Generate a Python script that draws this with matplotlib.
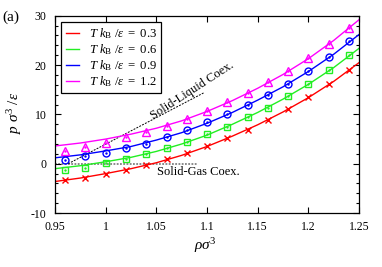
#!/usr/bin/env python

import numpy as np
import matplotlib
matplotlib.use("Agg")
import matplotlib.pyplot as plt
from matplotlib.ticker import MultipleLocator, FixedLocator

plt.rcParams['font.family'] = ['Liberation Serif', 'DejaVu Serif']
plt.rcParams['mathtext.fontset'] = 'custom'
plt.rcParams['mathtext.rm'] = 'Liberation Serif'
plt.rcParams['mathtext.it'] = 'Liberation Serif:italic'
plt.rcParams['mathtext.bf'] = 'Liberation Serif:bold'

# densidades de la simulacion
rho = [0.96, 0.98, 1.00, 1.02, 1.04, 1.06, 1.08, 1.10, 1.12, 1.14,
       1.16, 1.18, 1.20, 1.22, 1.24]
p_03 = [-3.3, -2.8, -2.0, -1.2, -0.3, 0.9, 2.1, 3.6, 5.2, 6.9,
        8.8, 11.0, 13.5, 16.2, 19.1]
p_06 = [-1.2, -0.8, 0.2, 0.9, 2.0, 3.2, 4.5, 6.1, 7.5, 9.4,
        11.4, 13.8, 16.2, 19.0, 22.0]
p_09 = [0.8, 1.5, 2.2, 3.1, 4.1, 5.35, 6.8, 8.4, 10.1, 11.9,
        14.0, 16.2, 18.9, 21.7, 24.9]
p_12 = [2.65, 3.45, 4.3, 5.5, 6.4, 7.6, 9.0, 10.75, 12.45, 14.4,
        16.5, 18.8, 21.5, 24.3, 27.5]

# curvas teoricas
rho_fit = [0.95, 0.975, 1.0, 1.025, 1.05, 1.075, 1.1, 1.125, 1.15,
           1.175, 1.2, 1.225, 1.25]
fit_03 = [-3.6, -2.9, -2.0, -1.0, 0.2, 1.7, 3.5, 5.6, 7.9, 10.5, 13.4, 16.7, 20.5]
fit_06 = [-1.0, -0.4, 0.4, 1.3, 2.5, 4.0, 5.8, 8.0, 10.4, 13.1, 16.1, 19.5, 23.4]
fit_09 = [1.2, 1.8, 2.6, 3.5, 4.8, 6.3, 8.2, 10.4, 12.9, 15.6, 18.7, 22.2, 26.2]
fit_12 = [3.6, 4.2, 5.0, 6.0, 7.2, 8.7, 10.6, 12.8, 15.3, 18.1, 21.3, 25.0, 29.2]

temps = ["0.3", "0.6", "0.9", "1.2"]

# coexistencias
sl_rho = [0.963, 1.097]
sl_p = [0.0, 14.4]
sg_rho = [0.95, 1.09]
sg_p = [0.0, 0.0]

xticks = [0.95, 1.0, 1.05, 1.1, 1.15, 1.2, 1.25]
xticklabels = ["0.95", "1", "1.05", "1.1", "1.15", "1.2", "1.25"]
yticks = [-10, 0, 10, 20, 30]
yticklabels = ["-10", "0", "10", "20", "30"]

colors = ["#ff0000", "#22ee22", "#0000ff", "#ff00ff"]
markers = ["x", "s", "o", "^"]

fig = plt.figure(figsize=(3.82, 2.67), dpi=100)
ax = fig.add_axes([0.144, 0.202, 0.796, 0.739])

ax.plot(sg_rho, sg_p, color="0.5", lw=1.3, linestyle=(0, (1, 0.8)), zorder=1)
ax.plot(sl_rho, sl_p, color="black", lw=0.7, linestyle=(0, (2, 1.3)), zorder=1)

series = [p_03, p_06, p_09, p_12]
fits = [fit_03, fit_06, fit_09, fit_12]
for T, p, f, c, m in zip(temps, series, fits, colors, markers):
    ax.plot(rho_fit, f, color=c, lw=1.0, zorder=2,
            label=r"$T\ k_\mathrm{B}\ /\varepsilon\ =\ %s$" % T)
    ax.plot(rho, p, linestyle="none", marker=m, ms=5 if m != "^" else 5.5,
            mfc="none", mec=c, mew=1.0, zorder=3)
    if m != "x":
        ax.plot(rho, p, linestyle="none", marker=".", ms=1.5, color=c, zorder=3)

ax.text(1.085, 14.9, "Solid-Liquid Coex.", fontsize=9, rotation=33,
        ha="center", va="center", rotation_mode="anchor")
ax.text(1.091, -1.6, "Solid-Gas Coex.", fontsize=9, ha="center", va="center")

ax.set_xlim(0.95, 1.25)
ax.set_ylim(-10, 30)
ax.xaxis.set_major_locator(FixedLocator(xticks))
ax.set_xticklabels(xticklabels)
ax.yaxis.set_major_locator(FixedLocator(yticks))
ax.set_yticklabels(yticklabels)
ax.yaxis.set_minor_locator(MultipleLocator(2))
ax.tick_params(which="both", direction="in", top=True, right=True,
               labelsize=8.5, width=0.8)
ax.tick_params(which="major", length=4, pad=6)
ax.tick_params(which="minor", length=2)
for s in ax.spines.values():
    s.set_linewidth(0.9)

leg = ax.legend(loc="upper left", bbox_to_anchor=(0.021, 0.968),
                borderaxespad=0, fontsize=9.2, fancybox=False, framealpha=1,
                edgecolor="black", handlelength=1.0, handletextpad=0.8,
                labelspacing=0.08, borderpad=0.35)
leg.get_frame().set_linewidth(0.9)

fig.text(0.039, 0.577, r"$p\ \sigma^3\ /\varepsilon$", rotation=90,
         ha="center", va="center", fontsize=11)
fig.text(0.539, 0.079, r"$\rho\sigma^3$", ha="center", va="center", fontsize=11)
fig.text(0.029, 0.935, "(a)", ha="center", va="center", fontsize=11)

fig.savefig("out.png", dpi=100)
plt.close(fig)
